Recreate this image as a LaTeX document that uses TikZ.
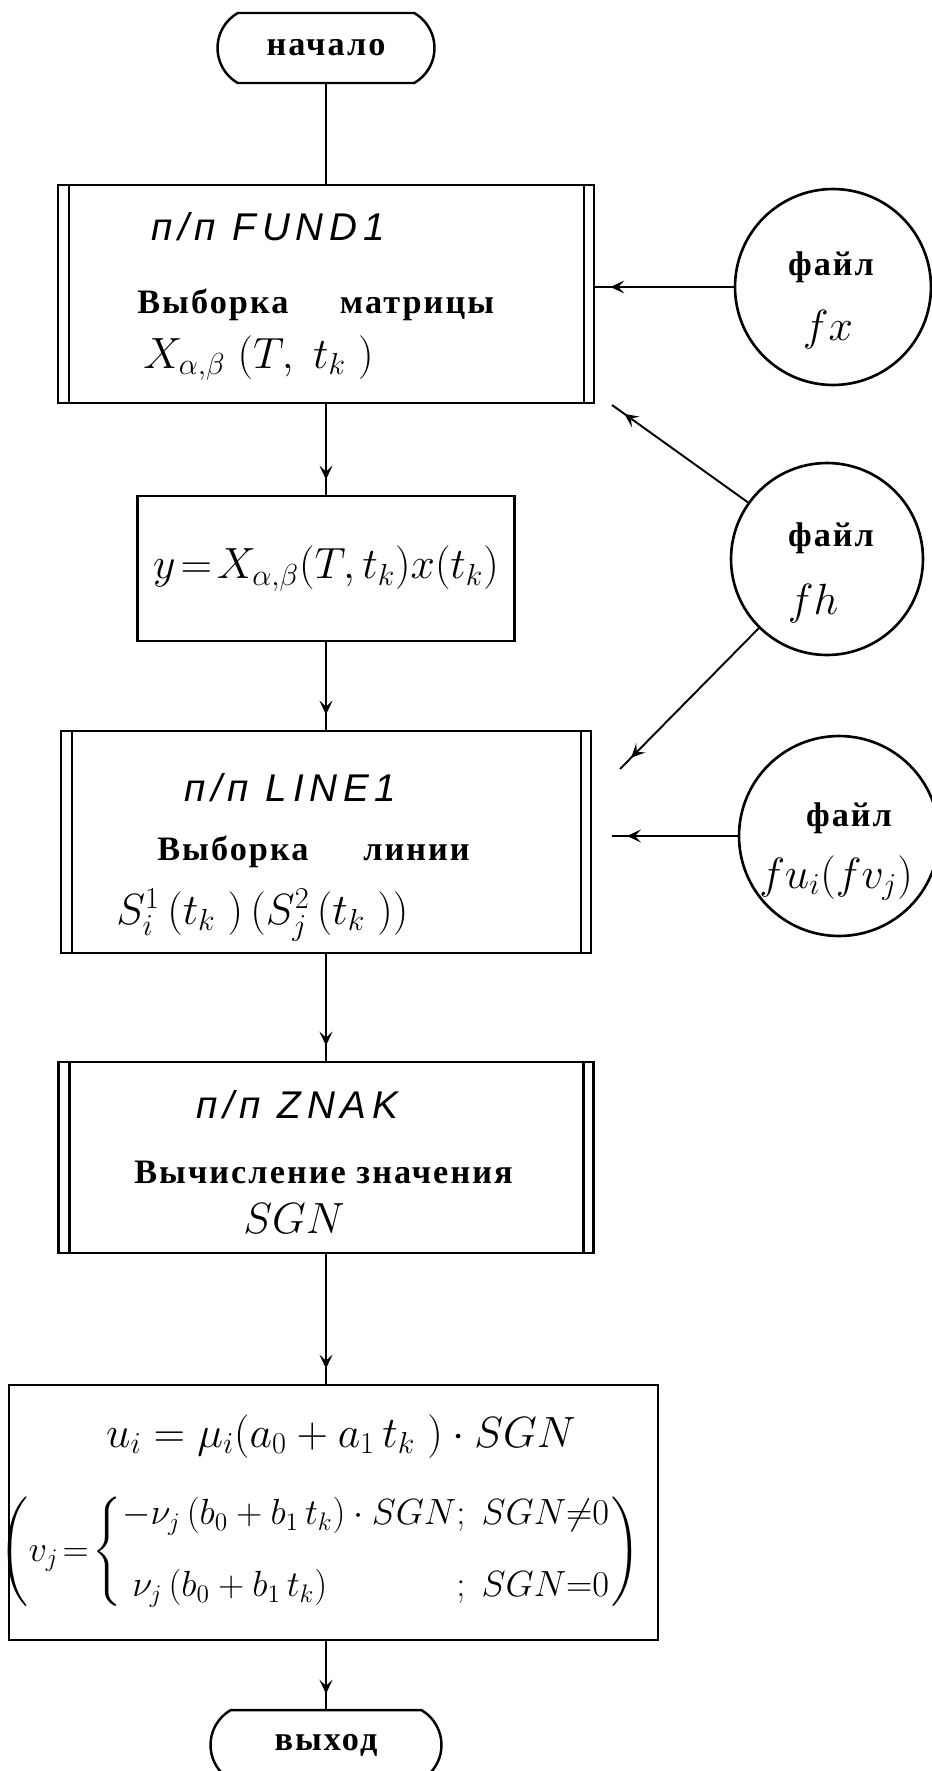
\documentclass[tikz,border=0pt]{standalone}
\usepackage{fontspec}
\usepackage{amsmath}
\usetikzlibrary{arrows.meta,shapes.misc,decorations.markings}

\newfontfamily\typefont[LetterSpace=6]{Liberation Serif}
\newfontfamily\handfont[LetterSpace=15]{Liberation Sans}

\tikzset{
  flow/.style={line width=1.1pt, postaction={decorate},
    decoration={markings, mark=at position -0.3cm with {\arrow{Stealth[length=0.28cm,width=0.26cm,inset=0.12cm]}}}},
  procbox/.style={draw, rectangle, line width=1.6pt, inner sep=0pt},
  subbox/.style={procbox, path picture={
    \draw[line width=1.2pt] ([xshift=0.22cm]path picture bounding box.north west) -- ([xshift=0.22cm]path picture bounding box.south west)
      ([xshift=-0.2cm]path picture bounding box.north east) -- ([xshift=-0.2cm]path picture bounding box.south east);}},
  term/.style={draw, rounded rectangle, rounded rectangle arc length=120, line width=1.4pt, inner sep=0pt,
    font=\typefont\bfseries\fontsize{19.5}{23}\selectfont},
  filecirc/.style={draw, circle, line width=1.5pt, inner sep=0pt},
  ttext/.style={font=\typefont\bfseries\fontsize{19.5}{23}\selectfont, inner sep=0pt},
  htext/.style={font=\handfont\itshape\fontsize{22}{26}\selectfont, inner sep=0pt},
  mtext/.style={font=\fontsize{25}{30}\selectfont, inner sep=0pt},
}

\begin{document}
\begin{tikzpicture}[x=0.02cm, y=-0.02cm]
    \useasboundingbox (0,0) rectangle (931,1771);
    % main column
    \node[term, minimum width=4.34cm, minimum height=1.4cm] (start) at (326,48) {начало};

    \node[subbox, minimum width=10.72cm, minimum height=4.36cm] (fund) at (326,294) {};
    \node[htext, anchor=base west] (fundA) at (151,240) {п/п FUND1};
    \node[ttext, anchor=base west] (fundB) at (137,313) {Выборка\hspace{1.5em}матрицы};
    \node[mtext, anchor=base west] (fundC) at (143,368) {$X_{\alpha,\beta}\;(T,\;t_k\;)$};

    \node[procbox, mtext, minimum width=7.54cm, minimum height=2.9cm] (ybox) at (326,568.5)
        {$y\!=\!X_{\alpha,\beta}(T,t_k)x(t_k)$};

    \node[subbox, minimum width=10.6cm, minimum height=4.44cm] (line1) at (326,842) {};
    \node[htext, anchor=base west] (lineA) at (184,801) {п/п LINE1};
    \node[ttext, anchor=base west] (lineB) at (157,860) {Выборка\hspace{1.6em}линии};
    \node[mtext, anchor=base west] (lineC) at (116,924) {$S_i^1\,(t_k\;)\,(S_j^2\,(t_k\;))$};

    \node[subbox, minimum width=10.7cm, minimum height=3.82cm] (znak) at (326,1157.5) {};
    \node[htext, anchor=base west] (znakA) at (196,1118) {п/п ZNAK};
    \node[ttext, anchor=base west] (znakB) at (134,1183) {Вычисление значения};
    \node[mtext, anchor=base west] (znakC) at (243,1233) {$SGN$};

    \node[procbox, minimum width=12.98cm, minimum height=5.1cm] (calc) at (333.5,1512.5) {};
    \node[mtext, anchor=base] (calcA) at (341,1447) {$u_i = \mu_i(a_0 + a_1\,t_k\;)\cdot SGN$};
    \node[mtext, font=\fontsize{21}{25}\selectfont] (calcB) at (320,1552) {$\left(v_j\!=\!\left\{\begin{array}{@{}l@{}l@{}}
        -\nu_j\,(b_0+b_1\,t_k)\cdot SGN & ;\;SGN{\neq}0\\[16pt]
        \;\nu_j\,(b_0+b_1\,t_k) & ;\;SGN{=}0
        \end{array}\right.\right)$};

    \node[term, minimum width=4.62cm, minimum height=1.4cm] (stop) at (326,1745) {выход};

    % files
    \node[filecirc, minimum size=3.92cm] (fx) at (833,287) {};
    \node[ttext] (fxA) at (831,267) {файл};
    \node[mtext, font=\fontsize{30}{34}\selectfont] (fxB) at (828,330) {$fx$};

    \node[filecirc, minimum size=3.84cm] (fh) at (827,559) {};
    \node[ttext] (fhA) at (831,538) {файл};
    \node[mtext, font=\fontsize{30}{34}\selectfont] (fhB) at (813,604) {$fh$};

    \node[filecirc, minimum size=4cm] (fu) at (839,836) {};
    \node[ttext] (fuA) at (849,818) {файл};
    \node[mtext] (fuB) at (836,878) {$fu_i(fv_j)$};

    \coordinate (fhup) at (612,405);
    \coordinate (fhdown) at (620,769);
    \coordinate (fuin) at (612,836);

    % connectors
    \draw[line width=1.1pt] (start.south) -- (start.south |- fund.north);
    \draw[flow] (fund.south) -- (fund.south |- ybox.north);
    \draw[flow] (ybox.south) -- (ybox.south |- line1.north);
    \draw[flow] (line1.south) -- (line1.south |- znak.north);
    \draw[flow] (znak.south) -- (znak.south |- calc.north);
    \draw[flow] (calc.south -| stop.north) -- (stop.north);
    \draw[flow] (fx) -- (fx -| fund.east);
    \draw[flow] (fh) -- (fhup);
    \draw[flow] (fh) -- (fhdown);
    \draw[flow] (fu) -- (fuin);
\end{tikzpicture}
\end{document}
